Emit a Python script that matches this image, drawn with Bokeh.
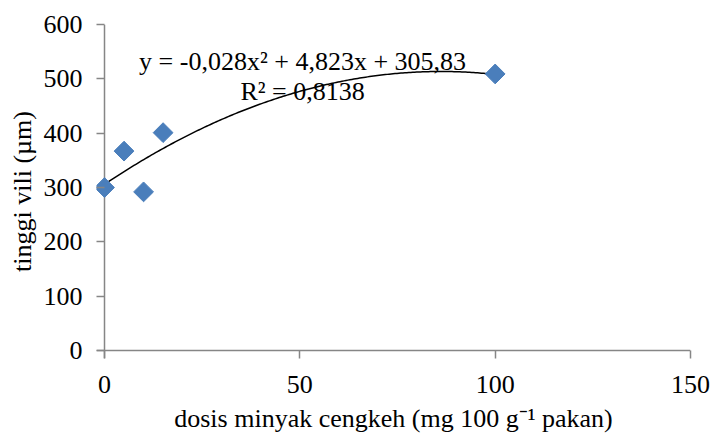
import numpy as np
from bokeh.plotting import figure
from bokeh.models import Range1d, Label, FixedTicker, ColumnDataSource, Span
from bokeh.embed import file_html
from bokeh.resources import INLINE

dose = [0, 5, 10, 15, 100]
height = [300, 367, 292, 401, 509]
coef = [-0.028, 4.823, 305.83]  # trendline coefficients (from label)
x_ticks = [0, 50, 100, 150]
y_ticks = [0, 100, 200, 300, 400, 500, 600]
eq_text = "y = -0,028x² + 4,823x + 305,83"
r2_text = "R² = 0,8138"

FONT = "Liberation Serif"
AX = "#868686"
FS = "26px"

# frame padded by the tick length so edge markers are not clipped;
# axis lines are drawn at x=0 / y=0 with spans, ticks point inward from the frame edge
p = figure(width=713, height=435, output_backend="svg", toolbar_location=None,
           x_range=Range1d(-2.05, 150), y_range=Range1d(-14.6, 600),
           min_border_left=96, min_border_right=23, min_border_top=24, min_border_bottom=74)
p.outline_line_color = None
p.xgrid.visible = False
p.ygrid.visible = False

for ax in (p.xaxis[0], p.yaxis[0]):
    ax.axis_line_color = None
    ax.major_tick_line_color = AX
    ax.minor_tick_line_color = None
    ax.major_tick_out = 0
    ax.major_tick_in = 8
    ax.major_label_text_font = FONT
    ax.major_label_text_font_size = FS
    ax.major_label_text_color = "black"
    ax.axis_label_text_font = FONT
    ax.axis_label_text_font_size = FS
    ax.axis_label_text_font_style = "normal"
    ax.axis_label_text_color = "black"
    ax.major_tick_line_width = 1.5

p.xaxis.ticker = FixedTicker(ticks=x_ticks)
p.yaxis.ticker = FixedTicker(ticks=y_ticks)
p.xaxis.axis_label = "dosis minyak cengkeh (mg 100 g\u207b\u00b9 pakan)"
p.yaxis.axis_label = "tinggi vili (µm)"
p.xaxis.major_label_standoff = 17
p.xaxis.axis_label_standoff = 8
p.yaxis.major_label_standoff = 14
p.yaxis.axis_label_standoff = 4

p.add_layout(Span(location=0, dimension="height", line_color=AX, line_width=1.5, level="underlay"))
p.add_layout(Span(location=0, dimension="width", line_color=AX, line_width=1.5, level="underlay"))

xs = np.linspace(min(dose), max(dose), 200)
ys = np.polyval(coef, xs)
p.line(xs, ys, line_color="black", line_width=1.5)

src = ColumnDataSource(dict(x=dose, y=height))
p.scatter("x", "y", source=src, marker="square", size=14, angle=np.pi / 4,
          fill_color="#4A7EBB", line_color="#4A7EBB")

p.add_layout(Label(x=50.7, y=531, text=eq_text, text_font=FONT, text_font_size=FS,
                   text_align="center", text_baseline="middle", text_color="black"))
p.add_layout(Label(x=50.7, y=476, text=r2_text, text_font=FONT, text_font_size=FS,
                   text_align="center", text_baseline="middle", text_color="black"))

open("out.html", "w").write(file_html(p, INLINE))
